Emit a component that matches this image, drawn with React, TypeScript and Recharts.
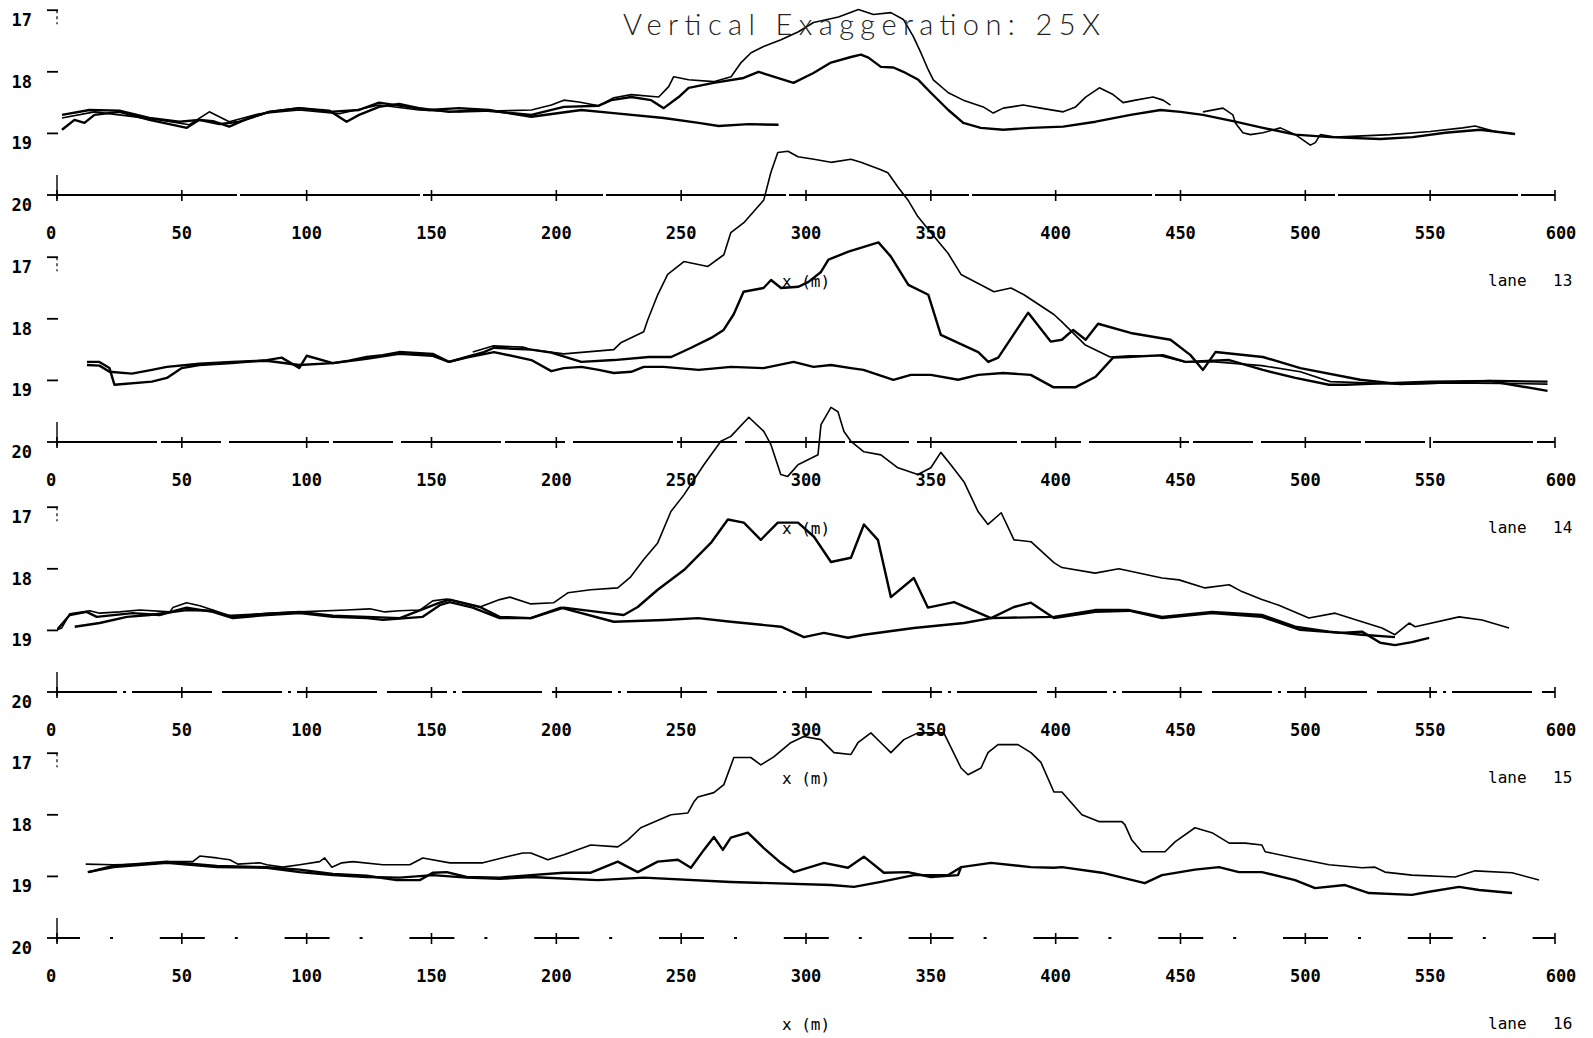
import React from 'react';
import { LineChart, Line, XAxis, YAxis } from 'recharts';

type Pt = [number, number];

const X_TICKS = [0, 50, 100, 150, 200, 250, 300, 350, 400, 450, 500, 550, 600];
const Y_TICKS = [17, 18, 19, 20];
const TITLE = 'Vertical Exaggeration: 25X';
const X_LABEL = 'x (m)';
const LANE_WORD = 'lane';
const LANE_NAMES = ['13', '14', '15', '16'];

// ---------- lane 13 ----------
const lane13Base: Pt[] = [
  [2, 18.7], [13, 18.62], [25, 18.63], [37, 18.75], [49, 18.81], [57, 18.78], [65, 18.85], [73, 18.81],
  [85, 18.65], [97, 18.59], [109, 18.65], [121, 18.62], [129, 18.5], [137, 18.55], [149, 18.62], [161, 18.59],
  [173, 18.62], [190, 18.73], [210, 18.62], [223, 18.67], [243, 18.75], [257, 18.83], [265, 18.88], [277, 18.85],
  [289, 18.86],
];
const lane13Main: Pt[] = [
  [2, 18.94], [7, 18.78], [11, 18.83], [15, 18.7], [25, 18.65], [37, 18.78], [45, 18.85], [52, 18.91], [57, 18.78],
  [62.5, 18.8], [69, 18.89], [77, 18.75], [85, 18.65], [97, 18.59], [109, 18.63], [116, 18.81], [121, 18.7],
  [129, 18.57], [137, 18.52], [145, 18.59], [157, 18.65], [169, 18.62], [190, 18.7], [203, 18.57], [217, 18.55],
  [222, 18.46], [230, 18.41], [238, 18.46], [243, 18.59], [249, 18.41], [253, 18.26], [263, 18.18], [275, 18.1],
  [281, 18.0], [287, 18.08], [295, 18.18], [303, 18.02], [310, 17.85], [318, 17.76], [322, 17.72], [325, 17.77],
  [330, 17.92], [335, 17.93], [339, 18.0], [345, 18.13], [350, 18.34], [357, 18.62], [363, 18.83], [370, 18.91],
  [379, 18.94], [390, 18.91], [403, 18.89], [416, 18.81], [430, 18.7], [442, 18.62], [450, 18.65], [459, 18.7],
  [472, 18.81], [483, 18.91], [496, 19.02], [510, 19.06], [530, 19.09], [543, 19.06], [556, 18.99], [570, 18.94],
  [584, 19.01],
];
const lane13Upper: Pt[] = [
  [2, 18.75], [15, 18.65], [29, 18.72], [41, 18.78], [53, 18.86], [61, 18.65], [69, 18.81], [81, 18.68], [97, 18.62],
  [113, 18.68], [129, 18.54], [145, 18.62], [161, 18.65], [190, 18.62], [198, 18.54], [203, 18.46], [209, 18.49],
  [217, 18.55], [223, 18.42], [230, 18.37], [241, 18.41], [245, 18.24], [247, 18.08], [253, 18.13], [263, 18.16],
  [270, 18.08], [274, 17.85], [278, 17.69], [283, 17.59], [290, 17.48], [297, 17.35], [303, 17.2], [313, 17.11],
  [321, 16.99], [327, 17.07], [334, 17.04], [339, 17.15], [343, 17.43], [346, 17.69], [349, 17.97], [351, 18.13],
  [357, 18.34], [363, 18.46], [371, 18.57], [375, 18.67], [379, 18.59], [387, 18.54], [394, 18.59], [403, 18.65],
  [408, 18.57], [412, 18.41], [417.5, 18.26], [423, 18.37], [427, 18.5], [432, 18.46], [439, 18.41], [443, 18.46],
  [446, 18.54],
];
const lane13Tail: Pt[] = [
  [459, 18.65], [467, 18.59], [471, 18.7], [472, 18.83], [475, 18.99], [478, 19.02], [483, 18.99], [490, 18.91],
  [496, 19.02], [502, 19.19], [504, 19.15], [506, 19.02], [512, 19.06], [534, 19.02], [550, 18.97], [563, 18.91],
  [568, 18.88], [576, 18.97], [584, 19.01],
];

// ---------- lane 14 ----------
const lane14Base: Pt[] = [
  [12, 18.75], [17, 18.76], [21, 18.86], [30, 18.89], [38, 18.83], [44, 18.78], [57, 18.73], [70, 18.7], [84, 18.68],
  [97, 18.75], [110.5, 18.72], [124, 18.65], [137, 18.57], [150.5, 18.6], [157, 18.7], [164, 18.63], [175, 18.54],
  [190, 18.67], [198, 18.85], [203, 18.8], [210, 18.78], [217, 18.83], [223, 18.88], [230, 18.86], [235, 18.78],
  [243, 18.78], [257, 18.83], [270, 18.78], [283, 18.8], [295, 18.7], [303, 18.78], [310, 18.75], [318, 18.8],
  [323, 18.83], [335, 18.99], [342, 18.91], [350, 18.91], [361, 18.99], [369, 18.91], [379, 18.88], [390, 18.91],
  [399, 19.11], [402.5, 19.11], [408, 19.11], [416, 18.94], [423, 18.63], [429, 18.62], [443, 18.59], [452, 18.7],
  [469.5, 18.67], [483, 18.83], [496, 18.96], [509.5, 19.07], [516, 19.07], [536, 19.04], [550, 19.02], [576, 19.01],
  [597, 19.02],
];
const lane14Mid: Pt[] = [
  [12, 18.7], [17, 18.7], [21, 18.8], [23, 19.07], [38, 19.02], [44, 18.96], [50, 18.8], [57, 18.75], [70, 18.72],
  [84, 18.67], [90, 18.63], [97, 18.8], [100, 18.6], [110.5, 18.72], [117, 18.68], [124, 18.62], [130.5, 18.59],
  [137, 18.54], [150.5, 18.57], [157, 18.7], [164, 18.62], [171, 18.54], [175, 18.47], [190, 18.5], [198, 18.55],
  [210, 18.7], [223, 18.67], [237, 18.62], [246, 18.62], [254, 18.47], [262, 18.31], [267, 18.18], [271, 17.93],
  [275, 17.56], [283, 17.5], [286, 17.37], [290, 17.5], [297, 17.48], [301, 17.4], [306, 17.24], [309, 17.04],
  [317, 16.91], [329, 16.76], [334, 16.99], [341, 17.45], [349, 17.61], [354, 18.26], [369, 18.54], [373, 18.7],
  [377, 18.63], [389, 17.9], [398, 18.37], [402.5, 18.34], [407, 18.18], [412, 18.34], [417, 18.08], [430, 18.23],
  [446, 18.34], [454, 18.59], [459, 18.83], [464, 18.54], [483, 18.62], [498, 18.8], [522, 18.99], [538, 19.06],
  [574, 19.01], [597, 19.17],
];
const lane14Upper: Pt[] = [
  [166.5, 18.54], [174.6, 18.44], [186.6, 18.46], [189.8, 18.5], [203, 18.57], [223, 18.5], [225.8, 18.39],
  [235, 18.21], [236.6, 18.02], [240.6, 17.61], [244.6, 17.28], [251.1, 17.07], [260.7, 17.15], [267.1, 16.96],
  [269.9, 16.6], [275.1, 16.44], [283.1, 16.07], [285.9, 15.63], [288.7, 15.3], [292.8, 15.28], [296.8, 15.37],
  [303.2, 15.41], [310, 15.46], [318, 15.41], [322, 15.46], [330, 15.58], [332.8, 15.63], [336.8, 15.86],
  [340.8, 16.07], [344.8, 16.34], [350, 16.6], [356.8, 16.93], [362.1, 17.28], [375.3, 17.56], [382.1, 17.5],
  [387.3, 17.61], [399.3, 17.93], [402.5, 18.05], [411.7, 18.42], [421.8, 18.62], [429.8, 18.6], [441.8, 18.6],
  [451.8, 18.7], [463.8, 18.7], [482.6, 18.76], [498, 18.86], [510, 19.02], [538, 19.06], [558, 19.04], [597, 19.06],
];

// ---------- lane 15 ----------
const lane15Base: Pt[] = [
  [0, 18.99], [5.1, 18.75], [11.9, 18.7], [15.9, 18.78], [30.3, 18.72], [41.1, 18.75], [51.9, 18.63], [62.4, 18.7],
  [70.4, 18.8], [84, 18.75], [97.2, 18.72], [110.5, 18.78], [124.1, 18.8], [130.5, 18.83], [146.5, 18.78],
  [153.3, 18.59], [157.3, 18.54], [166.5, 18.63], [177.3, 18.8], [189.8, 18.8], [201.8, 18.63], [223, 18.86],
  [243.1, 18.83], [256.8, 18.8], [269.9, 18.86], [290, 18.94], [299.2, 19.11], [307.2, 19.04], [316.8, 19.12],
  [323.2, 19.07], [343.2, 18.96], [363.3, 18.88], [374.1, 18.8], [399.3, 18.78], [415.8, 18.67], [429.4, 18.67],
  [442.6, 18.78], [462.6, 18.7], [482.6, 18.75], [495.9, 18.94], [509.5, 19.02], [522.7, 19.07], [535.9, 19.11],
];
const lane15Mid: Pt[] = [
  [7.1, 18.94], [17.1, 18.88], [28, 18.78], [37.1, 18.75], [51.9, 18.67], [62.4, 18.68], [70.4, 18.78], [84, 18.73],
  [97.2, 18.7], [110.5, 18.76], [124.1, 18.78], [137.3, 18.8], [153.3, 18.55], [157.3, 18.5], [169.4, 18.62],
  [177.3, 18.78], [189.8, 18.8], [203, 18.63], [216.6, 18.7], [227, 18.75], [232.6, 18.62], [240.6, 18.34],
  [251.1, 18.02], [261.9, 17.58], [268.7, 17.2], [275.1, 17.25], [281.9, 17.53], [288.7, 17.25], [296.8, 17.25],
  [303.2, 17.48], [310, 17.89], [318, 17.82], [323.2, 17.28], [328.8, 17.53], [334, 18.46], [343.2, 18.15],
  [348.8, 18.63], [359.3, 18.54], [374.1, 18.8], [383.3, 18.62], [390.1, 18.55], [399.3, 18.8], [415.8, 18.7],
  [429.4, 18.68], [442.6, 18.8], [462.6, 18.72], [482.6, 18.78], [497.9, 18.99], [514, 19.04], [522.7, 19.02],
  [530, 19.2], [535.9, 19.24], [542.7, 19.19], [549.6, 19.12],
];
const lane15Upper: Pt[] = [
  [0, 18.99], [1.9, 18.96], [5.1, 18.73], [13.1, 18.68], [17.1, 18.72], [25.1, 18.7], [33.1, 18.67], [45.2, 18.7],
  [46.4, 18.63], [51.9, 18.55], [57.2, 18.6], [62.4, 18.67], [68, 18.76], [81.2, 18.73], [97.2, 18.7], [116, 18.67],
  [125.3, 18.65], [131.3, 18.7], [137.3, 18.68], [145.3, 18.67], [150.5, 18.52], [156.1, 18.49], [169.4, 18.62],
  [177.3, 18.5], [181.4, 18.46], [189.8, 18.57], [199, 18.55], [204.6, 18.39], [213.8, 18.34], [224.6, 18.31],
  [229.8, 18.13], [235, 17.85], [240.6, 17.58], [245.9, 17.07], [251.1, 16.8], [259.1, 16.31], [265.9, 15.93],
  [269.9, 15.85], [277.1, 15.54], [283.1, 15.77], [285.9, 15.98], [289.9, 16.47], [292.7, 16.5], [296.8, 16.31],
  [304.8, 16.15], [306, 15.66], [310, 15.38], [312.8, 15.45], [315.2, 15.77], [318, 15.93], [323.2, 16.1],
  [330, 16.15], [336.8, 16.36], [344.8, 16.47], [350, 16.36], [354, 16.11], [358, 16.31], [363.3, 16.59],
  [368.9, 17.07], [372.9, 17.28], [378.2, 17.09], [383.3, 17.53], [390.1, 17.56], [399.3, 17.9], [402.5, 17.98],
  [415.8, 18.07], [425.3, 18.0], [442.6, 18.15], [449.4, 18.18], [459.8, 18.31], [469.5, 18.26], [474.6, 18.37],
  [482.6, 18.5], [489.4, 18.59], [501.4, 18.8], [511.9, 18.72], [522.7, 18.86], [530.7, 18.96], [535.9, 19.07],
  [541.6, 18.88], [544, 18.94], [561.6, 18.78], [570.8, 18.83], [581.6, 18.96],
];

// ---------- lane 16 ----------
const lane16Base: Pt[] = [
  [12.3, 18.93], [22.7, 18.85], [44, 18.78], [64, 18.85], [84, 18.86], [97.2, 18.93], [110.5, 18.98], [124.1, 19.01],
  [137.3, 19.02], [150.5, 18.98], [164.1, 19.02], [177.3, 19.04], [189.8, 19.01], [216.6, 19.06], [235, 19.02],
  [269.9, 19.09], [310, 19.14], [319.2, 19.17], [330, 19.09], [343.2, 18.98], [356.8, 18.98], [362.1, 18.85],
];
const lane16Mid: Pt[] = [
  [12.7, 18.93], [22.4, 18.83], [44, 18.76], [64, 18.83], [84, 18.85], [97.2, 18.89], [110.5, 18.96], [124.1, 18.99],
  [136.1, 19.06], [145.3, 19.06], [150.5, 18.94], [156.1, 18.93], [164.1, 19.01], [177.3, 19.02], [189.8, 18.98],
  [203, 18.94], [213.8, 18.94], [224.6, 18.76], [232.6, 18.93], [240.6, 18.76], [248.7, 18.73], [253.9, 18.86],
  [259.1, 18.57], [263.1, 18.36], [266.7, 18.57], [269.9, 18.37], [276.7, 18.29], [283.1, 18.54], [289.9, 18.78],
  [295.1, 18.93], [307.2, 18.78], [316.8, 18.86], [323.2, 18.68], [331.2, 18.94], [340.8, 18.93], [350, 19.01],
  [360.9, 18.98], [362.1, 18.85], [374.1, 18.78], [390.1, 18.85], [399.3, 18.86], [402.5, 18.85], [418.5, 18.94],
  [435.7, 19.11], [442.6, 18.98], [455.8, 18.89], [465.4, 18.85], [473.4, 18.93], [482.6, 18.93], [495.9, 19.06],
  [503.9, 19.19], [515.9, 19.14], [525.5, 19.27], [542.7, 19.3], [549.6, 19.25], [561.6, 19.17], [569.6, 19.22],
  [582.8, 19.27],
];
const lane16Upper: Pt[] = [
  [11.5, 18.8], [22.4, 18.81], [35.9, 18.8], [46.4, 18.76], [54.4, 18.76], [57.2, 18.67], [64, 18.7], [69.2, 18.73],
  [72.4, 18.8], [81.2, 18.78], [84, 18.81], [90.4, 18.85], [97.2, 18.81], [105.2, 18.76], [107.2, 18.7],
  [110.1, 18.85], [114.1, 18.78], [118.5, 18.76], [130.5, 18.81], [141.3, 18.81], [146.5, 18.7], [157.3, 18.78],
  [170.6, 18.78], [181.4, 18.67], [186.6, 18.62], [189.8, 18.62], [196.6, 18.73], [203, 18.65], [213.8, 18.49],
  [224.6, 18.52], [228.6, 18.41], [233.8, 18.21], [245.9, 18.0], [252.7, 17.97], [255.1, 17.79], [256.7, 17.71],
  [263.1, 17.64], [267.1, 17.51], [271.1, 17.07], [277.9, 17.07], [281.9, 17.19], [287.1, 17.06], [293.9, 16.83],
  [299.1, 16.73], [306, 16.78], [311.2, 16.99], [318, 17.02], [320.8, 16.83], [326, 16.67], [330, 16.83],
  [334, 16.99], [339.2, 16.78], [344.8, 16.67], [355.2, 16.67], [362.1, 17.24], [364.9, 17.35], [370.1, 17.24],
  [372.9, 16.99], [376.9, 16.86], [384.9, 16.86], [390.1, 16.99], [394.1, 17.15], [399.3, 17.63], [402.5, 17.63],
  [410.5, 18.0], [417.3, 18.11], [426.5, 18.11], [427.7, 18.16], [430.5, 18.41], [434.5, 18.6], [443.8, 18.6],
  [447.8, 18.44], [455.8, 18.21], [462.6, 18.29], [469.5, 18.46], [475.9, 18.46], [482.6, 18.49], [483.9, 18.6],
  [495.9, 18.7], [509.5, 18.81], [522.7, 18.86], [527.9, 18.85], [531.9, 18.93], [542.7, 18.98], [560, 19.01],
  [568, 18.91], [582.8, 18.94], [593.6, 19.06],
];

// ---------- layout ----------
const MONO = "'DejaVu Sans Mono', 'Liberation Mono', monospace";
const W = 1593;
const PLOT_H = 308;
const TOP_M = 5;
const XAXIS_H = 100;
const CHART_H = TOP_M + PLOT_H + XAXIS_H;
const THICK = 2.4;
const THIN = 1.6;

type Series = { data: Pt[]; w: number };
type Panel = { axisY: number; lane: string; dash?: string; dashOffset?: number; series: Series[] };

const PANELS: Panel[] = [
  {
    axisY: 195, lane: LANE_NAMES[0], dash: '180 3',
    series: [
      { data: lane13Base, w: THICK }, { data: lane13Main, w: THICK },
      { data: lane13Upper, w: THIN }, { data: lane13Tail, w: THIN },
    ],
  },
  {
    axisY: 442, lane: LANE_NAMES[1], dash: '100 4 60 8',
    series: [
      { data: lane14Base, w: THICK }, { data: lane14Mid, w: THICK }, { data: lane14Upper, w: THIN },
    ],
  },
  {
    axisY: 692, lane: LANE_NAMES[2], dash: '60 6 3 6 80 10',
    series: [
      { data: lane15Base, w: THICK }, { data: lane15Mid, w: THICK }, { data: lane15Upper, w: THIN },
    ],
  },
  {
    axisY: 938, lane: LANE_NAMES[3], dash: '45 30 3 46.8', dashOffset: 22,
    series: [
      { data: lane16Base, w: THICK }, { data: lane16Mid, w: THICK }, { data: lane16Upper, w: THIN },
    ],
  },
];

const toRows = (pts: Pt[]) => pts.map(([x, y]) => ({ x, y }));

const renderXTick = (props: any) => {
  const { x, y, payload } = props;
  const v = payload.value;
  const shift = v === 0 ? -6 : v === 600 ? 6 : 0;
  return (
    <g>
      <line x1={x} x2={x} y1={y - 5} y2={y + 6} stroke="#000" strokeWidth={1.6} />
      <text x={x + shift} y={y + 44} textAnchor="middle" fontFamily={MONO} fontSize={17} fontWeight="bold" fill="#000">
        {v}
      </text>
    </g>
  );
};

const renderYTick = (props: any) => {
  const { x, y, payload } = props;
  const v = payload.value;
  return (
    <g>
      <line x1={x - 10} x2={x + 1} y1={y} y2={y} stroke="#000" strokeWidth={1.8} />
      {v === 17 && <line x1={x} x2={x} y1={y} y2={y + 14} stroke="#000" strokeWidth={1.2} strokeDasharray="3 3" />}
      {v === 20 && <line x1={x} x2={x} y1={y - 20} y2={y + 4} stroke="#000" strokeWidth={1.4} />}
      <text x={x - 25} y={y + 16} textAnchor="end" fontFamily={MONO} fontSize={17} fontWeight="bold" fill="#000">
        {v}
      </text>
    </g>
  );
};

export default function App() {
  return (
    <div style={{ position: 'absolute', left: 0, top: 0, width: W, height: 1038, background: '#fff', overflow: 'hidden' }}>
      {PANELS.map((p, i) => (
        <div key={i} style={{ position: 'absolute', left: 0, top: p.axisY - PLOT_H - TOP_M }}>
          <LineChart width={W} height={CHART_H} margin={{ top: TOP_M, right: 38, bottom: 0, left: 0 }}>
            <XAxis
              type="number"
              dataKey="x"
              domain={[0, 600]}
              ticks={X_TICKS}
              interval={0}
              allowDataOverflow
              height={XAXIS_H}
              axisLine={{ stroke: '#000', strokeWidth: 2, strokeDasharray: p.dash, strokeDashoffset: p.dashOffset }}
              tickLine={false}
              tickSize={0}
              tickMargin={0}
              tick={renderXTick}
              label={{ value: X_LABEL, position: 'insideBottom', offset: 8, fill: '#000', fontSize: 16, fontFamily: MONO }}
            />
            <YAxis
              type="number"
              domain={[15, 20]}
              reversed
              ticks={Y_TICKS}
              interval={0}
              allowDataOverflow
              width={57}
              axisLine={false}
              tickLine={false}
              tickSize={0}
              tickMargin={0}
              tick={renderYTick}
            />
            {p.series.map((s, j) => (
              <Line
                key={j}
                data={toRows(s.data)}
                dataKey="y"
                type="linear"
                dot={false}
                activeDot={false}
                stroke="#000"
                strokeWidth={s.w}
                strokeLinejoin="round"
                isAnimationActive={false}
              />
            ))}
          </LineChart>
        </div>
      ))}
      <svg width={W} height={1038} style={{ position: 'absolute', left: 0, top: 0, pointerEvents: 'none' }}>
        <text
          x={623}
          y={35}
          textLength={477}
          lengthAdjust="spacing"
          fontFamily="Lato, 'Noto Sans', sans-serif"
          fontWeight={300}
          fontSize={29}
          fill="#222"
        >
          {TITLE}
        </text>
        {PANELS.map((p, i) => (
          <text key={i} y={p.axisY + 91} fontFamily={MONO} fontSize={16} fill="#000">
            <tspan x={1488}>{LANE_WORD}</tspan>
            <tspan x={1553}>{p.lane}</tspan>
          </text>
        ))}
      </svg>
    </div>
  );
}
